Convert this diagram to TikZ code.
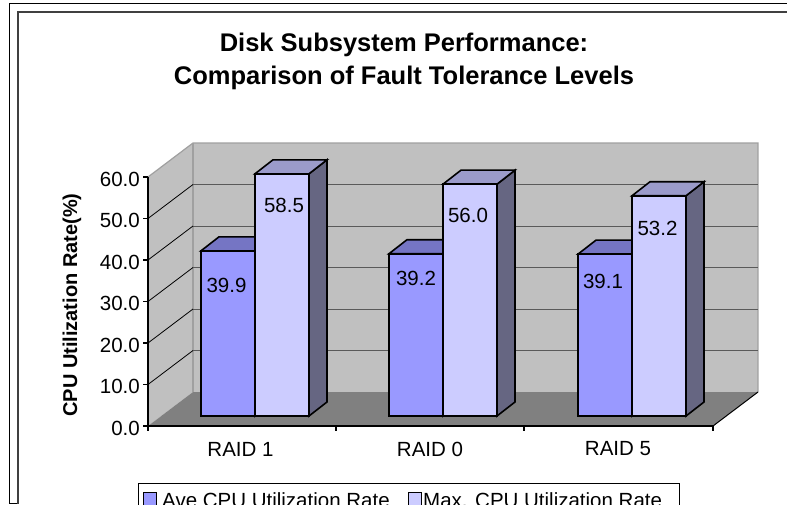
\documentclass[tikz,border=0pt]{standalone}
\usepackage{fontspec}
\setmainfont{Liberation Sans}
\definecolor{avefront}{HTML}{9999FF}
\definecolor{avetop}{HTML}{7575C4}
\definecolor{maxfront}{HTML}{CCCCFF}
\definecolor{maxtop}{HTML}{9B9BCA}
\definecolor{maxside}{HTML}{666682}
\definecolor{wallgray}{HTML}{C0C0C0}
\definecolor{floorgray}{HTML}{808080}
\definecolor{gridgray}{HTML}{5A5A5A}
\definecolor{edgegray}{HTML}{A0A0A0}
\definecolor{framegray}{HTML}{404040}
\tikzset{
  barline/.style={draw=black, line width=1.6pt, line join=miter},
  txt/.style={font=\fontsize{20.5}{24}\selectfont, inner sep=0pt},
  boldtxt/.style={font=\fontsize{20}{24}\selectfont\bfseries, inner sep=0pt},
  titletxt/.style={font=\fontsize{25.5}{30}\selectfont\bfseries, inner sep=0pt},
  axisline/.style={draw=black, line width=1.2pt},
}
\newcommand\drawthreedbar[5]{%
  \pgfmathsetmacro\bt{416-4.14*#2}
  \filldraw[barline,fill=#5] (#1+54,416) -- (#1+72,402) -- (#1+72,\bt-14) -- (#1+54,\bt) -- cycle;
  \filldraw[barline,fill=#4] (#1,\bt) -- (#1+18,\bt-14) -- (#1+72,\bt-14) -- (#1+54,\bt) -- cycle;
  \filldraw[barline,fill=#3] (#1,416) rectangle (#1+54,\bt);
}
\begin{document}
\begin{tikzpicture}[x=1pt,y=-1pt]
\useasboundingbox (0,0) rectangle (787,504);
\clip (0,0) rectangle (787,504);
\fill[white] (0,0) rectangle (787,504);
% frames
\draw[black, line width=1pt] (787,3.5) -- (9.5,3.5) -- (9.5,503) -- (17.5,503);
\draw[framegray, line width=2pt] (787,12) -- (17.5,12) -- (17.5,504);
% walls and floor
\fill[wallgray] (148,426) -- (193,392) -- (193,143) -- (148,177) -- cycle;
\fill[wallgray] (193,143) rectangle (758,392);
\fill[floorgray] (148,426) -- (193,392) -- (758,392) -- (713,426) -- cycle;
\draw[edgegray, line width=1.2pt] (148,177) -- (193,143) -- (758,143) -- (758,392);
\draw[edgegray, line width=1.2pt] (193,143) -- (193,392);
% grid
\foreach \v in {10,20,30,40,50} {
  \pgfmathsetmacro\yy{426-4.15*\v}
  \draw[gridgray, line width=1pt] (193,\yy-34) -- (758,\yy-34);
  \draw[black, line width=0.8pt] (148,\yy) -- (193,\yy-34);
}
\draw[black, line width=1pt] (713,426) -- (758,392);
% axes
\draw[axisline] (148,177) -- (148,426) -- (713,426);
\foreach \v in {0,10,20,30,40,50,60} {
  \pgfmathsetmacro\yy{426-4.15*\v}
  \draw[axisline] (143,\yy) -- (148,\yy);
}
\foreach \xx in {148,336,524,713} {
  \draw[axisline] (\xx,426) -- (\xx,431);
}
\node[txt, anchor=east] (t0) at (140,428) {0.0};
\node[txt, anchor=east] (t1) at (140,386.5) {10.0};
\node[txt, anchor=east] (t2) at (140,345) {20.0};
\node[txt, anchor=east] (t3) at (140,303.5) {30.0};
\node[txt, anchor=east] (t4) at (140,262) {40.0};
\node[txt, anchor=east] (t5) at (140,220.5) {50.0};
\node[txt, anchor=east] (t6) at (140,179) {60.0};
% bars
\drawthreedbar{201}{39.9}{avefront}{avetop}{avetop}
\drawthreedbar{255}{58.5}{maxfront}{maxtop}{maxside}
\drawthreedbar{389}{39.2}{avefront}{avetop}{avetop}
\drawthreedbar{443}{56.0}{maxfront}{maxtop}{maxside}
\drawthreedbar{578}{39.1}{avefront}{avetop}{avetop}
\drawthreedbar{632}{53.2}{maxfront}{maxtop}{maxside}
% value labels
\node[txt] (v1) at (226.5,285.5) {39.9};
\node[txt] (v2) at (284,205) {58.5};
\node[txt] (v3) at (416,278) {39.2};
\node[txt] (v4) at (468,215) {56.0};
\node[txt] (v5) at (603,281) {39.1};
\node[txt] (v6) at (657.5,228) {53.2};
% categories
\node[txt] (c1) at (240.5,449) {RAID 1};
\node[txt] (c2) at (430,449) {RAID 0};
\node[txt] (c3) at (618,449) {RAID 5};
% title
\node[titletxt, anchor=base] (title1) at (404,51.5) {Disk Subsystem Performance:};
\node[titletxt, anchor=base] (title2) at (404,84) {Comparison of Fault Tolerance Levels};
% y label
\node[boldtxt, anchor=base, rotate=90] (ylab) at (77,305) {CPU Utilization Rate(\%)};
% legend
\draw[black, line width=1pt, fill=white] (138,483) rectangle (679,530);
\filldraw[black, line width=1pt, fill=avefront] (143.5,492.5) rectangle (156,505);
\filldraw[black, line width=1pt, fill=maxfront] (408.5,492.5) rectangle (421,505);
\node[txt, anchor=base west] (l1) at (162,507) {Ave CPU Utilization Rate};
\node[txt, anchor=base west] (l2) at (423,507) {Max. CPU Utilization Rate};
\end{tikzpicture}
\end{document}
